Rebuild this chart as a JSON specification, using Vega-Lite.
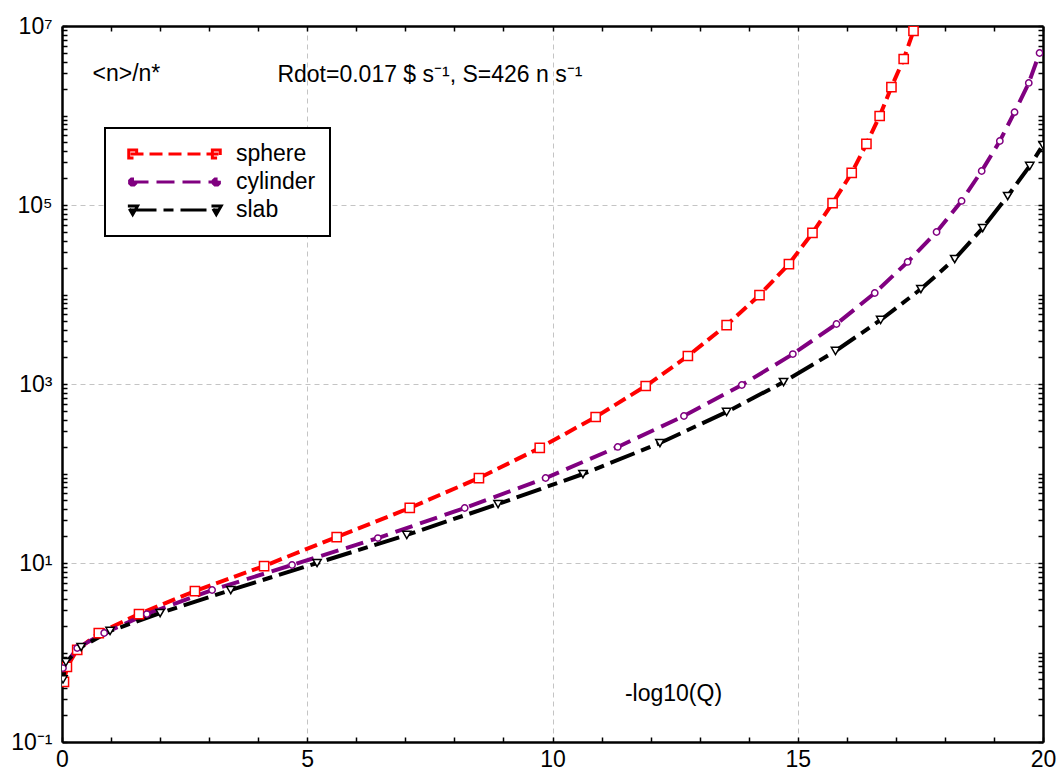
{
  "$schema": "https://vega.github.io/schema/vega-lite/v6.json",
  "width": 981,
  "height": 716,
  "autosize": "none",
  "padding": {"left": 62, "top": 26, "right": 16, "bottom": 31},
  "background": "white",
  "config": {
    "view": {"stroke": null},
    "font": "Liberation Sans"
  },
  "data": {
    "values": [
      {"series": "sphere", "x": 0.04, "y": 0.47},
      {"series": "sphere", "x": 0.10, "y": 0.69},
      {"series": "sphere", "x": 0.31, "y": 1.07},
      {"series": "sphere", "x": 0.75, "y": 1.65},
      {"series": "sphere", "x": 1.57, "y": 2.69},
      {"series": "sphere", "x": 2.71, "y": 4.86},
      {"series": "sphere", "x": 4.12, "y": 9.25},
      {"series": "sphere", "x": 5.60, "y": 19.5},
      {"series": "sphere", "x": 7.09, "y": 41.2},
      {"series": "sphere", "x": 8.50, "y": 89},
      {"series": "sphere", "x": 9.74, "y": 193},
      {"series": "sphere", "x": 10.88, "y": 428},
      {"series": "sphere", "x": 11.90, "y": 950},
      {"series": "sphere", "x": 12.76, "y": 2055},
      {"series": "sphere", "x": 13.55, "y": 4560},
      {"series": "sphere", "x": 14.22, "y": 9860},
      {"series": "sphere", "x": 14.82, "y": 21900},
      {"series": "sphere", "x": 15.30, "y": 48700},
      {"series": "sphere", "x": 15.71, "y": 105000},
      {"series": "sphere", "x": 16.10, "y": 228000},
      {"series": "sphere", "x": 16.40, "y": 481000},
      {"series": "sphere", "x": 16.67, "y": 987000},
      {"series": "sphere", "x": 16.91, "y": 2080000},
      {"series": "sphere", "x": 17.16, "y": 4280000},
      {"series": "sphere", "x": 17.36, "y": 8800000},
      {"series": "cylinder", "x": 0.02, "y": 0.67},
      {"series": "cylinder", "x": 0.31, "y": 1.12},
      {"series": "cylinder", "x": 0.86, "y": 1.65},
      {"series": "cylinder", "x": 1.73, "y": 2.69},
      {"series": "cylinder", "x": 3.06, "y": 4.99},
      {"series": "cylinder", "x": 4.69, "y": 9.5},
      {"series": "cylinder", "x": 6.44, "y": 19.0},
      {"series": "cylinder", "x": 8.21, "y": 41.2},
      {"series": "cylinder", "x": 9.86, "y": 89},
      {"series": "cylinder", "x": 11.33, "y": 198},
      {"series": "cylinder", "x": 12.68, "y": 439},
      {"series": "cylinder", "x": 13.86, "y": 975},
      {"series": "cylinder", "x": 14.90, "y": 2160},
      {"series": "cylinder", "x": 15.79, "y": 4680},
      {"series": "cylinder", "x": 16.57, "y": 10400},
      {"series": "cylinder", "x": 17.24, "y": 23100},
      {"series": "cylinder", "x": 17.83, "y": 49900},
      {"series": "cylinder", "x": 18.34, "y": 111000},
      {"series": "cylinder", "x": 18.75, "y": 240000},
      {"series": "cylinder", "x": 19.12, "y": 519000},
      {"series": "cylinder", "x": 19.42, "y": 1090000},
      {"series": "cylinder", "x": 19.71, "y": 2310000},
      {"series": "cylinder", "x": 19.93, "y": 4990000},
      {"series": "slab", "x": 0.02, "y": 0.5},
      {"series": "slab", "x": 0.08, "y": 0.78},
      {"series": "slab", "x": 0.39, "y": 1.15},
      {"series": "slab", "x": 0.98, "y": 1.74},
      {"series": "slab", "x": 2.00, "y": 2.76},
      {"series": "slab", "x": 3.44, "y": 4.99},
      {"series": "slab", "x": 5.20, "y": 10.0},
      {"series": "slab", "x": 7.03, "y": 20.6},
      {"series": "slab", "x": 8.89, "y": 45.6},
      {"series": "slab", "x": 10.62, "y": 98.7},
      {"series": "slab", "x": 12.19, "y": 219},
      {"series": "slab", "x": 13.55, "y": 487},
      {"series": "slab", "x": 14.71, "y": 1050},
      {"series": "slab", "x": 15.77, "y": 2340},
      {"series": "slab", "x": 16.69, "y": 5190},
      {"series": "slab", "x": 17.51, "y": 11500},
      {"series": "slab", "x": 18.20, "y": 24900},
      {"series": "slab", "x": 18.77, "y": 55300},
      {"series": "slab", "x": 19.28, "y": 126000},
      {"series": "slab", "x": 19.73, "y": 273000},
      {"series": "slab", "x": 20.0, "y": 468000}
    ]
  },
  "layer": [
    {
      "mark": {"type": "line", "clip": true, "strokeWidth": 4},
      "encoding": {
        "x": {
          "field": "x", "type": "quantitative",
          "scale": {"domain": [0, 20], "nice": false, "zero": false},
          "axis": {
            "orient": "bottom",
            "values": [0,1,2,3,4,5,6,7,8,9,10,11,12,13,14,15,16,17,18,19,20],
            "labelExpr": "datum.value % 5 === 0 ? datum.label : ''",
            "labelFontSize": 23, "labelColor": "black", "labelFlush": false, "labelOverlap": false,
            "labelPadding": 11, "tickSize": -5, "tickColor": "black", "tickWidth": 1.5,
            "domainColor": "black", "domainWidth": 2.5,
            "grid": true, "gridColor": "#c4c4c4", "gridDash": [5, 4], "gridWidth": 1,
            "gridOpacity": {"condition": {"test": "datum.value % 5 === 0 && datum.value > 0 && datum.value < 20", "value": 1}, "value": 0},
            "title": "-log10(Q)", "titleFontSize": 23, "titleFontWeight": "normal", "titleColor": "black",
            "titleX": 611, "titleY": -49, "titleAlign": "center", "titleBaseline": "middle", "titleAngle": 0
          }
        },
        "y": {
          "field": "y", "type": "quantitative",
          "scale": {"type": "log", "domain": [0.1, 10000000], "nice": false},
          "axis": {
            "orient": "left",
            "values": [0.1,0.2,0.3,0.4,0.5,0.6,0.7,0.8,0.9,1,2,3,4,5,6,7,8,9,10,20,30,40,50,60,70,80,90,100,200,300,400,500,600,700,800,900,1000,2000,3000,4000,5000,6000,7000,8000,9000,10000,20000,30000,40000,50000,60000,70000,80000,90000,100000,200000,300000,400000,500000,600000,700000,800000,900000,1000000,2000000,3000000,4000000,5000000,6000000,7000000,8000000,9000000,10000000],
            "labelExpr": "datum.value == 0.1 ? '10⁻¹' : datum.value == 10 ? '10¹' : datum.value == 1000 ? '10³' : datum.value == 100000 ? '10⁵' : datum.value == 10000000 ? '10⁷' : ''",
            "labelFontSize": 23, "labelColor": "black", "labelOverlap": false, "labelFlush": false,
            "labelPadding": 15, "tickSize": -5, "tickColor": "black", "tickWidth": 1.5,
            "domainColor": "black", "domainWidth": 2.5,
            "grid": true, "gridColor": "#c4c4c4", "gridDash": [5, 4], "gridWidth": 1,
            "gridOpacity": {"condition": {"test": "datum.value == 10 || datum.value == 1000 || datum.value == 100000", "value": 1}, "value": 0},
            "title": "<n>/n*", "titleFontSize": 23, "titleFontWeight": "normal", "titleColor": "black",
            "titleX": 30, "titleY": 47, "titleAngle": 0, "titleAlign": "left", "titleBaseline": "middle"
          }
        },
        "color": {
          "field": "series", "type": "nominal",
          "scale": {"domain": ["sphere", "cylinder", "slab"], "range": ["#ff0000", "#800080", "#000000"]},
          "legend": {
            "title": null, "orient": "none", "legendX": 43, "legendY": 102,
            "fillColor": "white", "strokeColor": "black", "padding": 14,
            "symbolType": "stroke", "symbolSize": 7744, "symbolStrokeWidth": 3, "symbolOffset": 10,
            "labelOffset": 16, "labelFontSize": 23, "labelColor": "black", "rowPadding": 4, "clipHeight": 24,
            "encode": {
              "symbols": {"update": {
                "shape": {"signal": "datum.value === 'sphere' ? 'M-1,0H1M-1.04,-0.09H-0.86V0.09H-1.04ZM0.86,-0.09H1.04V0.09H0.86Z' : datum.value === 'cylinder' ? 'M-1,0H1M-0.88,-0.03L-0.88,0.03L-0.92,0.07L-0.98,0.07L-1.02,0.03L-1.02,-0.03L-0.98,-0.07L-0.92,-0.07ZM1.02,-0.03L1.02,0.03L0.98,0.07L0.92,0.07L0.88,0.03L0.88,-0.03L0.92,-0.07L0.98,-0.07Z' : 'M-1,0H1M-1.06,-0.09H-0.84L-0.95,0.1ZM0.84,-0.09H1.06L0.95,0.1Z'"},
                "size": {"value": 7744},
                "fill": {"value": "transparent"}
              }},
              "legend": {"update": {"strokeWidth": {"value": 2}}}
            }
          }
        },
        "strokeDash": {
          "field": "series", "type": "nominal",
          "scale": {"domain": ["sphere", "cylinder", "slab"], "range": [[13, 6], [18, 8], [26, 7, 10, 7]]}
        }
      }
    },
    {
      "transform": [{"filter": "datum.series === 'sphere'"}],
      "mark": {"type": "point", "clip": true, "shape": "square", "size": 85, "filled": false, "fill": "white", "fillOpacity": 1, "stroke": "#ff0000", "strokeWidth": 1.5, "opacity": 1},
      "encoding": {
        "x": {
          "field": "x", "type": "quantitative",
          "axis": {
            "orient": "top",
            "values": [0,1,2,3,4,5,6,7,8,9,10,11,12,13,14,15,16,17,18,19,20],
            "labels": false, "tickSize": -5, "tickColor": "black", "tickWidth": 1.5,
            "domainColor": "black", "domainWidth": 2.5, "grid": false, "title": null
          }
        },
        "y": {
          "field": "y", "type": "quantitative",
          "axis": {
            "orient": "right",
            "values": [0.1,0.2,0.3,0.4,0.5,0.6,0.7,0.8,0.9,1,2,3,4,5,6,7,8,9,10,20,30,40,50,60,70,80,90,100,200,300,400,500,600,700,800,900,1000,2000,3000,4000,5000,6000,7000,8000,9000,10000,20000,30000,40000,50000,60000,70000,80000,90000,100000,200000,300000,400000,500000,600000,700000,800000,900000,1000000,2000000,3000000,4000000,5000000,6000000,7000000,8000000,9000000,10000000],
            "labels": false, "tickSize": -5, "tickColor": "black", "tickWidth": 1.5,
            "domainColor": "black", "domainWidth": 2.5, "grid": false, "title": null
          }
        }
      }
    },
    {
      "transform": [{"filter": "datum.series === 'cylinder'"}],
      "mark": {"type": "point", "clip": true, "shape": "circle", "size": 40, "filled": false, "fill": "white", "fillOpacity": 1, "stroke": "#800080", "strokeWidth": 1.5, "opacity": 1},
      "encoding": {
        "x": {"field": "x", "type": "quantitative", "axis": null},
        "y": {"field": "y", "type": "quantitative", "axis": null}
      }
    },
    {
      "transform": [{"filter": "datum.series === 'slab'"}],
      "mark": {"type": "point", "clip": true, "shape": "triangle-down", "size": 70, "filled": false, "fill": "white", "fillOpacity": 1, "stroke": "#000000", "strokeWidth": 1.5, "opacity": 1},
      "encoding": {
        "x": {"field": "x", "type": "quantitative", "axis": null},
        "y": {"field": "y", "type": "quantitative", "axis": null}
      }
    },
    {
      "data": {"values": [{"label": "Rdot=0.017 $ s⁻¹, S=426 n s⁻¹"}]},
      "mark": {"type": "text", "fontSize": 23, "align": "center", "baseline": "middle", "color": "black"},
      "encoding": {
        "x": {"datum": 7.5, "type": "quantitative", "axis": null},
        "y": {"datum": 2840000, "type": "quantitative", "axis": null},
        "text": {"field": "label"}
      }
    }
  ],
  "resolve": {"axis": {"x": "independent", "y": "independent"}}
}
